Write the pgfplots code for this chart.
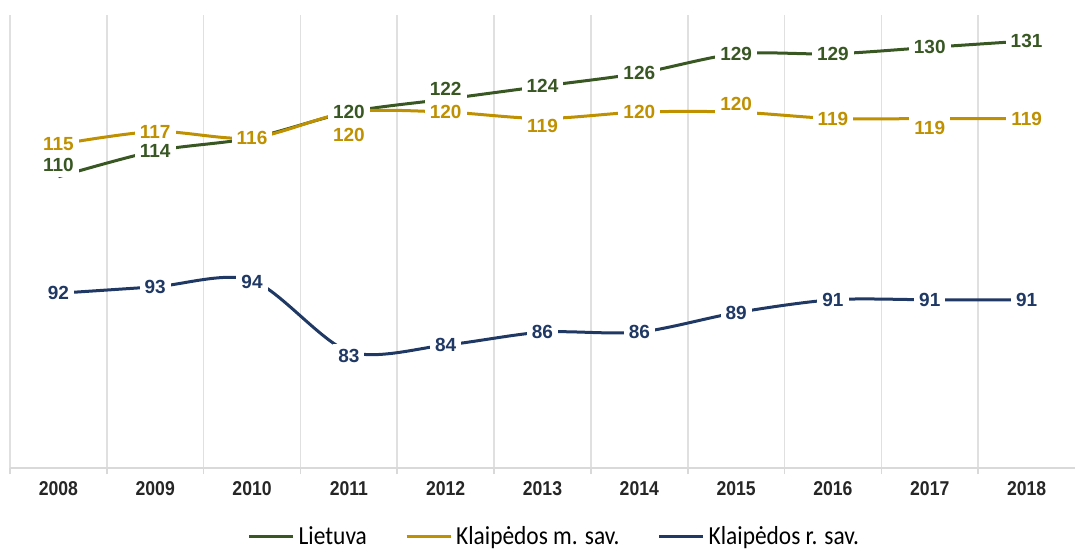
\documentclass[border=0pt]{standalone}
\usepackage{fontspec}
\setmainfont{Liberation Sans}
\newfontfamily\tickfont[FakeStretch=0.88]{Liberation Sans}
\newfontfamily\legfont[FakeStretch=0.9]{Carlito}
\usepackage{pgfplots}
\pgfplotsset{compat=1.18}
\definecolor{cGreen}{HTML}{385723}
\definecolor{cGold}{HTML}{BF9000}
\definecolor{cNavy}{HTML}{1F3864}
\pgfplotsset{
  lbl/.style={
    nodes near coords={\pgfmathprintnumber[assume math mode=true]{\pgfplotspointmeta}},
    visualization depends on={\thisrow{dy}\as\dy},
    every node near coord/.append style={
      font=\bfseries\fontsize{9.5}{11}\selectfont, text=#1, fill=white,
      inner sep=2.5pt, anchor=center, yshift=\dy pt}
  }
}
\begin{document}
\begin{tikzpicture}
\path[use as bounding box] (0,0) rectangle (541.5pt,276.5pt);
\begin{axis}[
  at={(5pt,42.5pt)}, anchor=south west,
  scale only axis, width=532.5pt, height=226.5pt,
  xmin=-0.5, xmax=10.5, ymin=65, ymax=135,
  clip=false,
  axis y line=none, axis x line*=bottom,
  x axis line style={draw=black!15, line width=0.8pt},
  xtick={0,1,2,3,4,5,6,7,8,9,10},
  xticklabels={2008,2009,2010,2011,2012,2013,2014,2015,2016,2017,2018},
  major tick length=0pt,
  minor xtick={-0.5,0.5,1.5,2.5,3.5,4.5,5.5,6.5,7.5,8.5,9.5},
  xminorgrids=true,
  minor grid style={draw=black!12, line width=0.8pt},
  minor tick style={draw=black!15, line width=0.8pt},
  minor tick length=3pt, xtick align=outside,
  xticklabel style={font=\tickfont\bfseries\fontsize{10}{12}\selectfont, text=black!85, yshift=-3pt},
  legend style={at={(0.512,-0.152)}, anchor=center, draw=none, fill=none,
    legend columns=-1, font=\legfont\fontsize{13}{15}\selectfont,
    /tikz/every even column/.append style={column sep=17pt}},
  legend image code/.code={\draw[#1, line width=1.6pt] (0pt,0pt) -- (22pt,0pt);},
]
\addplot[cGreen, line width=1.5pt, smooth, tension=0.5, lbl=cGreen] table {
x y dy
0 110 6
1 114 0
2 116 0
3 120 0
4 122 5
5 124 0
6 126 0
7 129 0
8 129 0
9 130 0
10 131 0
};
\addlegendentry{Lietuva}
\addplot[cGold, line width=1.5pt, smooth, tension=0.5, lbl=cGold] table {
x y dy
0 115 0
1 117 0
2 116 0
3 120 -11.5
4 120 0
5 119 -3.5
6 120 0
7 120 4
8 119 0
9 119 -4.5
10 119 0
};
\addlegendentry{Klaipėdos m. sav.}
\addplot[cNavy, line width=1.5pt, smooth, tension=0.5, lbl=cNavy] table {
x y dy
0 92 0
1 93 0
2 94 -1
3 83 -2
4 84 0
5 86 0
6 86 0
7 89 0
8 91 0
9 91 0
10 91 0
};
\addlegendentry{Klaipėdos r. sav.}
\end{axis}
\end{tikzpicture}
\end{document}
